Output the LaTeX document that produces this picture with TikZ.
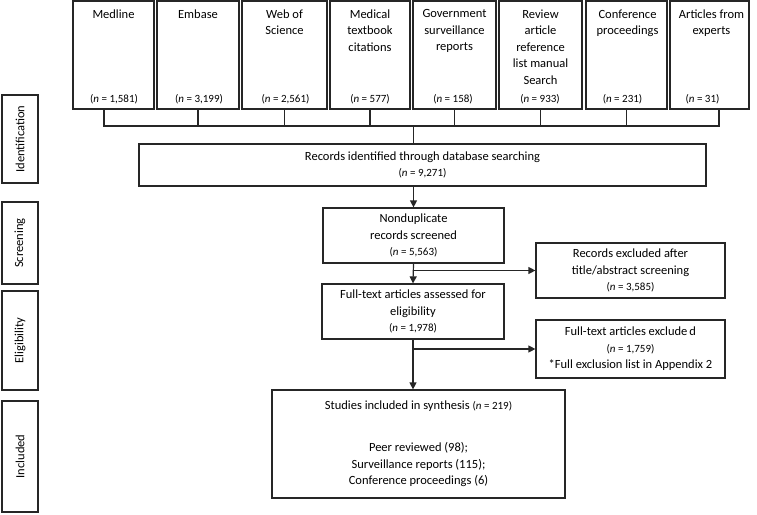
\documentclass[tikz,border=0pt]{standalone}
\usepackage{fontspec}
\setmainfont{Carlito}
\usetikzlibrary{arrows.meta}
\tikzset{
  line/.style={draw=black!85, line width=1.2pt},
  arr/.style={line, -{Triangle[length=7pt,width=7pt]}},
  box/.style={draw=black!85, line width=1.2pt, inner sep=0pt, align=center, font=\fontsize{12.5}{16.5}\selectfont},
  srcbox/.style={box, minimum height=108},
  ttl/.style={inner sep=0pt, anchor=north, align=center, font=\fontsize{12.5}{16.5}\selectfont},
  cnt/.style={inner sep=0pt, anchor=base, font=\fontsize{11}{13}\selectfont},
  side/.style={box, rotate=90, minimum height=36},
}
\newcommand{\nn}[1]{{\fontsize{11}{13}\selectfont(\textit{n} = #1)}}
\begin{document}
\begin{tikzpicture}[x=1pt, y=-1pt]
  \useasboundingbox (0,0) rectangle (757,514);
  % stage labels
  \node[side, minimum width=88] (ident) at (20,139) {Identification};
  \node[side, minimum width=82] (screen) at (20,243) {Screening};
  \node[side, minimum width=99] (elig) at (20,340.5) {Eligibility};
  \node[side, minimum width=111] (incl) at (20,456.5) {Included};
  % sources
  \node[srcbox, minimum width=81] (medline) at (113.5,55) {};
  \node[ttl] (medlineT) at (113.5,9.5) {Medline};
  \node[cnt] (medlineN) at (114,102.5) {(\textit{n} = 1,581)};
  \node[srcbox, minimum width=82] (embase) at (198,55) {};
  \node[ttl] (embaseT) at (198,9.5) {Embase};
  \node[cnt] (embaseN) at (199,102.5) {(\textit{n} = 3,199)};
  \node[srcbox, minimum width=85] (wos) at (284.5,55) {};
  \node[ttl] (wosT) at (284.5,9.5) {Web of\\Science};
  \node[cnt] (wosN) at (285.5,102.5) {(\textit{n} = 2,561)};
  \node[srcbox, minimum width=80] (textbook) at (370,55) {};
  \node[ttl] (textbookT) at (370,9.5) {Medical\\textbook\\citations};
  \node[cnt] (textbookN) at (370,102.5) {(\textit{n} = 577)};
  \node[srcbox, minimum width=83] (govt) at (454.5,55) {};
  \node[ttl] (govtT) at (454.5,9.5) {Government\\surveillance\\reports};
  \node[cnt] (govtN) at (453,102.5) {(\textit{n} = 158)};
  \node[srcbox, minimum width=83] (review) at (540.5,55) {};
  \node[ttl] (reviewT) at (540.5,9.5) {Review\\article\\reference\\list manual\\Search};
  \node[cnt] (reviewN) at (540,102.5) {(\textit{n} = 933)};
  \node[srcbox, minimum width=81] (conf) at (626.5,55) {};
  \node[ttl] (confT) at (627.5,9.5) {Conference\\proceedings};
  \node[cnt] (confN) at (622.5,102.5) {(\textit{n} = 231)};
  \node[srcbox, minimum width=79] (experts) at (709.5,55) {};
  \node[ttl] (expertsT) at (711.5,9.5) {Articles from\\experts};
  \node[cnt] (expertsN) at (702.5,102.5) {(\textit{n} = 31)};
  % flow
  \node[box, minimum width=567, minimum height=42] (records) at (422.5,165) {Records identified through database searching\\\nn{9,271}};
  \node[box, minimum width=181, minimum height=55] (nondup) at (413.5,235.5) {Nonduplicate\\records screened\\\nn{5,563}};
  \node[box, minimum width=189, minimum height=55] (excl1) at (630.5,270.5) {Records excluded after\\title/abstract screening\\\nn{3,585}};
  \node[box, minimum width=182, minimum height=55] (fulltext) at (413,311.5) {Full-text articles assessed for\\eligibility\\\nn{1,978}};
  \node[box, minimum width=189, minimum height=58] (excl2) at (630.5,349) {Full-text articles exclude\,d\\\nn{1,759}\\{*}Full exclusion list in Appendix 2};
  \node[box, minimum width=293, minimum height=108] (studies) at (418.5,444) {Studies included in synthesis \nn{219}\\[25.5pt]Peer reviewed (98);\\Surveillance reports (115);\\Conference proceedings (6)};
  % connectors
  \coordinate (bus) at (0,126);
  \draw[line] ([xshift=-9.5]medline.south) |- ([xshift=9.5]experts.south |- bus) -- ([xshift=9.5]experts.south);
  \draw[line] (embase.south) -- (embase.south |- bus);
  \draw[line] (wos.south) -- (wos.south |- bus);
  \draw[line] (textbook.south) -- (textbook.south |- bus);
  \draw[line] (govt.south) -- (govt.south |- bus);
  \draw[line] (review.south) -- (review.south |- bus);
  \draw[line] (conf.south) -- (conf.south |- bus);
  \draw[line] (bus -| nondup) -- (records.north -| nondup);
  \draw[arr] (records.south -| nondup) -- (nondup.north);
  \draw[arr] (nondup.south) -- (fulltext.north);
  \draw[arr] (excl1.west -| nondup) -- (excl1.west);
  \draw[arr] (fulltext.south) -- (fulltext.south |- studies.north);
  \draw[arr] (excl2.west -| fulltext) -- (excl2.west);
\end{tikzpicture}
\end{document}
